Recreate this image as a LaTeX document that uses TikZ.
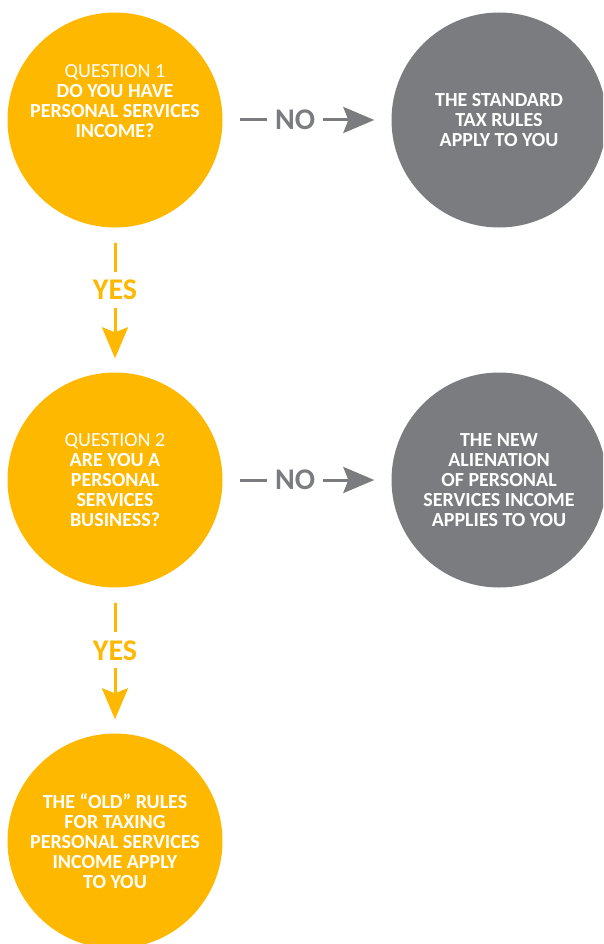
\documentclass[tikz,border=0pt]{standalone}
\usepackage{fontspec}
\setmainfont{Carlito}
\usetikzlibrary{arrows.meta}
\definecolor{amber}{HTML}{FFB800}
\definecolor{slate}{HTML}{7A7C80}

\begin{document}
\begin{tikzpicture}[x=1pt, y=-1pt,
    question/.style={circle, fill=amber, minimum size=215pt, inner sep=0pt,
        text=white, align=center, font=\fontsize{20}{20}\selectfont\bfseries},
    outcome/.style={question, fill=slate},
    caption/.style={text=white, align=center, inner sep=0pt,
        font=\fontsize{20}{20}\selectfont\bfseries},
    yesline/.style={amber, line width=3pt, shorten <=15pt, shorten >=14pt,
        -{Stealth[length=31pt, width=26pt, inset=5pt]}},
    noline/.style={yesline, slate, shorten <=17pt, shorten >=17pt},
    answer/.style={fill=white, inner sep=8pt, pos=0.43,
        font=\fontsize{30}{30}\selectfont\bfseries}
]
    \useasboundingbox (0,0) rectangle (603,944);
    \clip (0,0) rectangle (603,944);

    \node[question] (q1) at (115,120) {};
    \node[caption] (q1text) at (115,101)
        {{\mdseries QUESTION 1}\\DO YOU HAVE\\PERSONAL SERVICES\\INCOME?};
    \node[outcome] (r1) at (499,120) {THE STANDARD\\TAX RULES\\APPLY TO YOU};
    \node[question] (q2) at (115,480)
        {{\mdseries QUESTION 2}\\ARE YOU A\\PERSONAL\\SERVICES\\BUSINESS?};
    \node[outcome] (r2) at (499,480)
        {THE NEW\\ALIENATION\\OF PERSONAL\\SERVICES INCOME\\APPLIES TO YOU};
    \node[question] (q3) at (115,841)
        {THE “OLD” RULES\\FOR TAXING\\PERSONAL SERVICES\\INCOME APPLY\\TO YOU};

    \draw[noline] (q1) -- node[answer] {NO} (r1);
    \draw[noline] (q2) -- node[answer] {NO} (r2);
    \draw[yesline] (q1) -- node[answer] {YES} (q2);
    \draw[yesline] (q2) -- node[answer] {YES} (q3);
\end{tikzpicture}
\end{document}
